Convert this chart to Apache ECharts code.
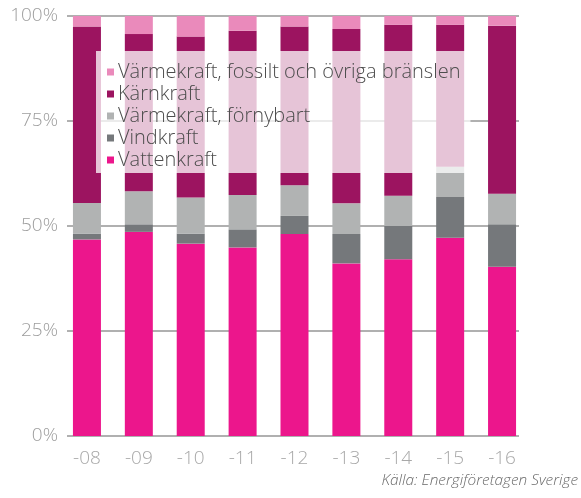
<!DOCTYPE html>
<html>
<head>
<meta charset="utf-8">
<title>Elproduktion</title>
<script src="https://cdn.jsdelivr.net/npm/echarts@6/dist/echarts.min.js"></script>
<style>
  html, body { margin: 0; padding: 0; background: #fff; }
  #main { width: 581px; height: 498px; }
</style>
</head>
<body>
<div id="main"></div>
<script type="text/javascript">
// år
var years = ['-08', '-09', '-10', '-11', '-12', '-13', '-14', '-15', '-16'];
// andelar i procent
var vattenkraft = [46.8, 48.6, 45.8, 44.9, 48.1, 41.1, 42.1, 47.2, 40.3];
var vindkraft   = [1.4, 1.8, 2.4, 4.3, 4.3, 7.0, 7.9, 9.7, 10.1];
var fornybart   = [7.3, 7.9, 8.6, 8.2, 7.3, 7.3, 7.2, 7.2, 7.3];
var karnkraft   = [42.0, 37.4, 38.3, 39.1, 37.8, 41.5, 40.7, 33.8, 40.0];
var fossilt     = [2.5, 4.3, 4.9, 3.5, 2.5, 3.1, 2.1, 2.1, 2.3];
var yTicks = [0, 25, 50, 75, 100];

var fontFam = '"Open Sans", "DejaVu Sans", sans-serif';

function bar(name, data, color) {
    return {
        name: name,
        type: 'bar',
        stack: 'total',
        xAxisIndex: 0,
        yAxisIndex: 0,
        barWidth: 28,
        itemStyle: { color: color },
        data: data
    };
}

var myChart = echarts.init(document.getElementById('main'));
var option = {
    animation: false,
    textStyle: { fontFamily: fontFam },
    grid: [
        // staplar
        { left: 61, right: 53, top: 16, bottom: 62 },
        // stödlinjer
        { left: 67, right: 62, top: 16, bottom: 62 }
    ],
    legend: {
        orient: 'vertical',
        left: 96,
        top: 51,
        padding: [10, 10, 2, 11],
        itemGap: 0,
        itemWidth: 7,
        itemHeight: 7,
        icon: 'rect',
        backgroundColor: 'rgba(255,255,255,0.75)',
        textStyle: {
            fontFamily: fontFam,
            fontWeight: 300,
            fontSize: 20,
            lineHeight: 22,
            color: '#4d4d4d',
            padding: [0, 0, 0, -1]
        },
        data: [
            'Värmekraft, fossilt och övriga bränslen',
            'Kärnkraft',
            'Värmekraft, förnybart',
            'Vindkraft',
            'Vattenkraft'
        ]
    },
    xAxis: [
        {
            type: 'category',
            gridIndex: 0,
            data: years,
            axisLine: { show: false },
            axisTick: { show: false },
            axisLabel: {
                margin: 13,
                fontSize: 19,
                fontWeight: 300,
                color: '#a8a8a8',
                fontFamily: fontFam
            }
        },
        {
            type: 'value',
            gridIndex: 1,
            min: 0,
            max: 1,
            show: false
        }
    ],
    yAxis: [
        {
            type: 'value',
            gridIndex: 0,
            min: 0,
            max: 100,
            show: false
        },
        {
            type: 'value',
            gridIndex: 1,
            min: yTicks[0],
            max: yTicks[yTicks.length - 1],
            interval: 25,
            axisLine: { show: false },
            axisTick: { show: false },
            axisLabel: {
                margin: 9,
                fontSize: 19,
                fontWeight: 300,
                color: '#9d9d9d',
                fontFamily: fontFam,
                formatter: '{value}%'
            },
            splitLine: { lineStyle: { color: '#b0b0b0', width: 2 } }
        }
    ],
    series: [
        bar('Vattenkraft', vattenkraft, '#ec168c'),
        bar('Vindkraft', vindkraft, '#75787b'),
        bar('Värmekraft, förnybart', fornybart, '#b1b3b3'),
        bar('Kärnkraft', karnkraft, '#9c1460'),
        bar('Värmekraft, fossilt och övriga bränslen', fossilt, '#ea8abb')
    ],
    graphic: [
        {
            type: 'text',
            right: 3,
            top: 473,
            style: {
                text: 'Källa: Energiföretagen Sverige',
                fontFamily: fontFam,
                fontStyle: 'italic',
                fontWeight: 300,
                fontSize: 15.4,
                fill: '#6a6a6a'
            }
        }
    ]
};
myChart.setOption(option);
</script>
</body>
</html>
